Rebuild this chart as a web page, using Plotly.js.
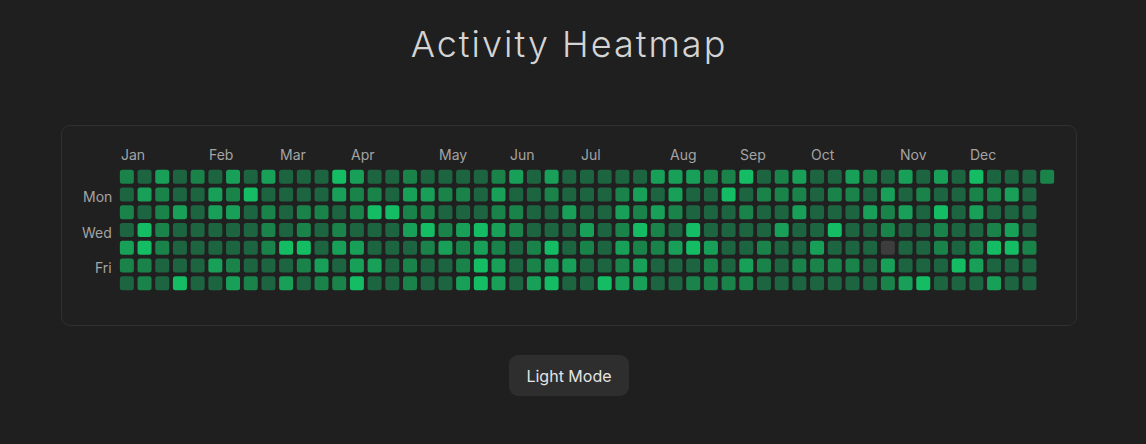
<!DOCTYPE html>
<html>
<head>
<meta charset="utf-8">
<script src="https://cdn.plot.ly/plotly-3.0.1.min.js"></script>
<style>
html,body{margin:0;padding:0;background:#1f1f1f;width:1146px;height:444px;overflow:hidden;}
#panel{position:absolute;left:61px;top:125px;width:1014px;height:199px;border:1px solid #303030;border-radius:9px;background:#202020;}
#chart{position:absolute;left:0;top:0;width:1146px;height:444px;}
#btn{position:absolute;left:509px;top:355px;width:120px;height:41px;border:none;border-radius:9px;background:#2e2e2e;color:#e4e4e4;font-family:Inter,"Open Sans",sans-serif;font-size:16px;padding:0;z-index:5;}
.js-plotly-plot .scatterlayer path.point{stroke-linejoin:round;}
</style>
</head>
<body>
<div id="panel"></div>
<div id="chart"></div>
<button id="btn">Light Mode</button>
<script>
// Activity level per day (0 = none, 1..4 = increasing), one array per weekday row, one entry per week
const sun = [2,1,3,1,2,1,3,1,3,1,1,1,4, 3,1,1,2,1,1,1,1,2,3,1,3,1, 1,1,1,1,3,3,3,2,2,4,1,2,3, 1,1,3,2,1,3,1,3,1,4,1,1,1,2];
const mon = [1,3,2,1,1,3,2,4,1,1,1,1,3, 2,2,1,3,3,2,2,1,3,1,1,2,1, 1,1,2,3,1,3,1,1,4,1,2,2,2, 1,2,2,1,3,1,2,1,1,2,2,3,1];
const tue = [2,1,2,3,1,3,3,1,2,1,2,2,1, 2,4,4,2,2,1,1,1,2,2,1,1,3, 1,1,3,2,3,2,1,1,1,2,1,1,3, 1,1,1,3,2,3,1,4,1,3,1,1,1];
const wed = [1,4,2,1,1,1,1,1,2,1,2,1,2, 1,1,1,3,4,2,3,4,3,2,1,1,1, 3,1,2,4,2,1,4,1,1,1,1,3,1, 1,4,1,1,2,1,1,2,1,1,2,3,1];
const thu = [3,4,2,1,1,1,1,1,2,4,4,1,3, 3,1,1,1,2,3,2,3,2,1,2,4,1, 2,1,3,2,2,3,4,3,1,1,2,1,1, 3,1,1,1,0,1,1,2,1,2,4,4,2];
const fri = [2,2,1,1,1,3,2,1,1,1,2,3,1, 3,3,1,2,1,1,2,4,3,1,2,3,3, 1,1,2,3,1,1,1,2,1,3,2,1,2, 2,2,2,1,3,1,1,1,4,3,1,1,1];
const sat = [1,2,1,4,1,1,3,2,1,3,1,2,2, 4,1,1,2,1,1,3,4,3,1,3,4,1, 1,4,3,3,1,1,2,2,2,2,1,1,1, 1,1,1,1,2,3,4,1,1,1,3,1,1];

const dayNames = ['Sun','Mon','Tue','Wed','Thu','Fri','Sat'];
const shownDays = ['Mon','Wed','Fri'];
const months = ['Jan','Feb','Mar','Apr','May','Jun','Jul','Aug','Sep','Oct','Nov','Dec'];
const monthWeek = [0,5,9,13,18,22,26,31,35,39,44,48];

const levelColors = ['#3d3d3d','#1c6540','#1a834a','#18a058','#14bc63'];

const rows = [sun, mon, tue, wed, thu, fri, sat];
const xs = [], ys = [], vs = [], tx = [];
rows.forEach((row, r) => {
  row.forEach((v, c) => {
    xs.push(c); ys.push(r); vs.push(v);
    tx.push(dayNames[r] + ', week ' + (c + 1) + ': level ' + v);
  });
});

const cs = [];
levelColors.forEach((col, i) => {
  const a = Math.max(0, (i - 0.5) / 4), b = Math.min(1, (i + 0.5) / 4);
  cs.push([a, col]); cs.push([b, col]);
});

const W = 1146, H = 444;
const colPx = 17.7, rowPx = 17.67;
const x0 = 127, y0 = 177.3;
const nW = sun.length;
const ml = x0 - colPx / 2, pw = nW * colPx;
const mt = y0 - rowPx / 2, ph = 7 * rowPx;
// data -> paper fraction helpers (axes: x in [-0.5, nW-0.5], y reversed [6.5, -0.5])
const px = v => (v + 0.5) / nW;
const py = v => (6.5 - v) / 7;

const trace = {
  type: 'scatter', mode: 'markers',
  x: xs, y: ys, text: tx, hoverinfo: 'text',
  marker: {
    symbol: 'square', size: 9,
    color: vs, cmin: 0, cmax: 4, colorscale: cs, showscale: false,
    line: {width: 5, color: vs, cmin: 0, cmax: 4, colorscale: cs}
  }
};

const labelFont = {family: 'Inter, "Open Sans", sans-serif', size: 14, color: '#a4a4a4'};
const ann = [];
months.forEach((m, i) => {
  ann.push({text: m, x: px(monthWeek[i] - 0.45), y: py(-1.25), xref: 'paper', yref: 'paper',
    xanchor: 'left', yanchor: 'middle', showarrow: false, font: labelFont});
});
shownDays.forEach(d => {
  ann.push({text: d, x: px(-0.72), y: py(dayNames.indexOf(d)), xref: 'paper', yref: 'paper',
    xanchor: 'right', yanchor: 'middle', yshift: -2, showarrow: false, font: labelFont});
});

const layout = {
  width: W, height: H,
  margin: {l: ml, r: W - ml - pw, t: mt, b: H - mt - ph, pad: 0},
  paper_bgcolor: 'rgba(0,0,0,0)', plot_bgcolor: 'rgba(0,0,0,0)',
  title: {text: '<span style="letter-spacing:2px">Activity Heatmap</span>', x: 569 / W, xanchor: 'center', y: 1 - 44 / H, yanchor: 'middle',
    yref: 'container', xref: 'container',
    font: {family: 'Inter, "Open Sans", sans-serif', size: 36, weight: 300, color: '#d4d4d4'}},
  xaxis: {range: [-0.5, nW - 0.5], visible: false, fixedrange: true},
  yaxis: {range: [6.5, -0.5], visible: false, fixedrange: true},
  showlegend: false,
  annotations: ann,
  hoverlabel: {bgcolor: '#333', font: {color: '#eee'}}
};

Plotly.newPlot('chart', [trace], layout, {displayModeBar: false, responsive: false});
</script>
</body>
</html>
